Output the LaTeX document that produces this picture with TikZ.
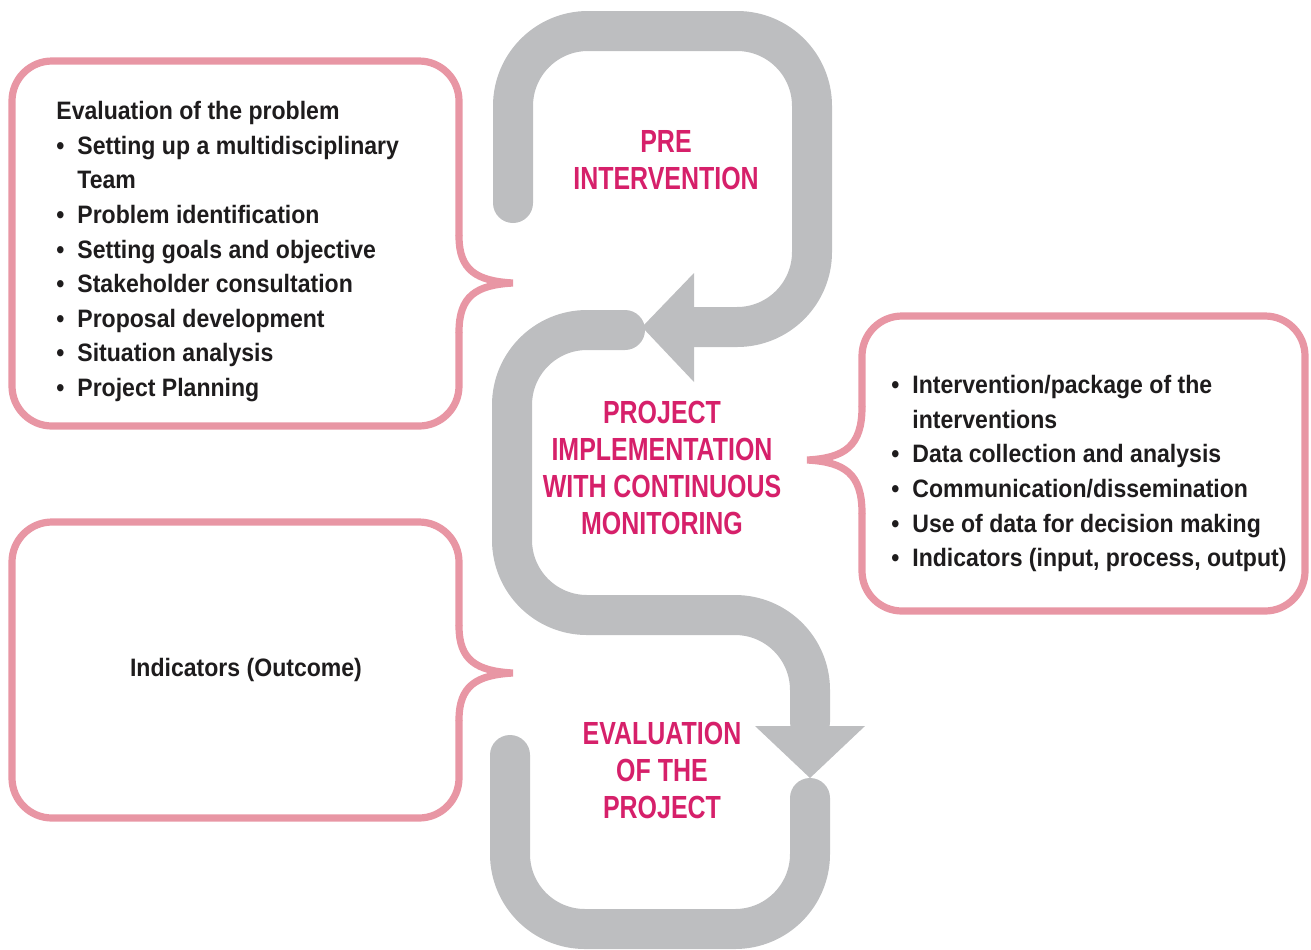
\documentclass[tikz,border=0pt]{standalone}
\usepackage{fontspec}
\setmainfont{Liberation Sans}[FakeStretch=0.915]
\newfontfamily\titlefont{Liberation Sans}[FakeStretch=0.78]
\definecolor{loopgrey}{RGB}{189,190,192}
\definecolor{bracepink}{RGB}{232,150,164}
\definecolor{titlepink}{RGB}{214,32,106}
\definecolor{listblack}{RGB}{30,28,29}
\newcommand\itm{\makebox[10.5pt][l]{\textbullet}}
\tikzset{
    loop/.style={loopgrey, line width=20pt, line cap=round, rounded corners=37.5pt},
    tip/.style={fill=loopgrey},
    bracebox/.style={bracepink, line width=3.6pt, rounded corners=20pt, line join=round},
    bracecurl/.style={bracepink, line width=3.6pt, line cap=round},
    phase/.style={titlepink, align=center, inner sep=0pt, font=\titlefont\bfseries\fontsize{16}{18.5}\selectfont},
    listtext/.style={listblack, align=left, inner sep=0pt, font=\bfseries\fontsize{12.6}{17.3}\selectfont}
}
\begin{document}
\begin{tikzpicture}[x=0.5pt, y=-0.5pt]
    \useasboundingbox (0,0) rectangle (1311,949);

    % grey loop
    \draw[loop] (513,203) -- (513,31) -- (812,31) -- (812,327) -- (690,327);
    \fill[tip] (694,273) -- (642,327) -- (694,382) -- cycle;
    \draw[loop] (625,330) -- (512,330) -- (512,615) -- (810,615) -- (810,722);
    \fill[tip] (755,726) -- (865,726) -- (810,778) -- cycle;
    \draw[loop] (810,798) -- (810,929) -- (510,929) -- (510,755);

    % boxes
    \draw[bracebox] (459,236) -- (459,61) -- (12,61) -- (12,426) -- (459,426) -- (459,332);
    \draw[bracebox] (862,407) -- (862,316) -- (1305,316) -- (1305,611) -- (862,611) -- (862,513);
    \draw[bracebox] (459,626) -- (459,522) -- (12,522) -- (12,818) -- (459,818) -- (459,720);

    % braces
    \draw[bracecurl] (459,332) .. controls (459,296) and (476,285) .. (513,283)
        .. controls (476,281) and (459,270) .. (459,236);
    \draw[bracecurl] (862,513) .. controls (862,474) and (845,462) .. (807,460)
        .. controls (845,458) and (862,446) .. (862,407);
    \draw[bracecurl] (459,720) .. controls (459,686) and (476,675) .. (513,673)
        .. controls (476,671) and (459,660) .. (459,626);

    % phases
    \node[phase] (pre) at (666,160) {PRE\\INTERVENTION};
    \node[phase] (impl) at (662,468) {PROJECT\\IMPLEMENTATION\\WITH CONTINUOUS\\MONITORING};
    \node[phase] (eval) at (662,770) {EVALUATION\\OF THE\\PROJECT};

    % lists
    \node[listtext, anchor=north west] (prelist) at (56,101) {%
        Evaluation of the problem\\
        \itm Setting up a multidisciplinary\\
        \hspace*{10.5pt}Team\\
        \itm Problem identification\\
        \itm Setting goals and objective\\
        \itm Stakeholder consultation\\
        \itm Proposal development\\
        \itm Situation analysis\\
        \itm Project Planning};
    \node[listtext, anchor=north west] (impllist) at (891,375) {%
        \itm Intervention/package of the\\
        \hspace*{10.5pt}interventions\\
        \itm Data collection and analysis\\
        \itm Communication/dissemination\\
        \itm Use of data for decision making\\
        \itm Indicators (input, process, output)};
    \node[listtext] (evallist) at (246,670) {Indicators (Outcome)};
\end{tikzpicture}
\end{document}
